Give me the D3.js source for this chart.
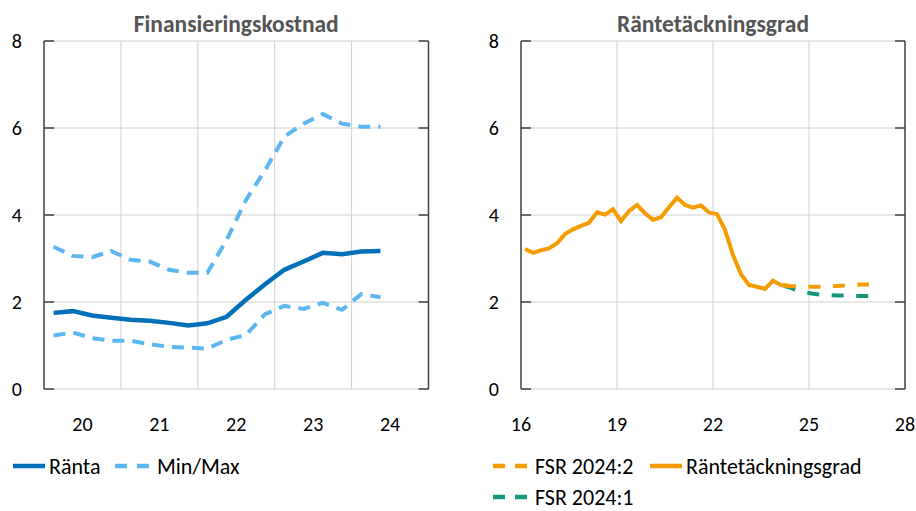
<!DOCTYPE html>
<html>
<head>
<meta charset="utf-8">
<script src="https://cdn.jsdelivr.net/npm/d3@7"></script>
<style>
    body { margin: 0; background: #fff; }
    text { font-family: Carlito, Lato, sans-serif; fill: #000; }
</style>
</head>
<body>
<div id="chart"></div>
<script>
// left panel: quarterly, 2020Q1 - 2024Q2 (mid-quarter)
const leftQuarters = ['2020Q1','2020Q2','2020Q3','2020Q4','2021Q1','2021Q2','2021Q3','2021Q4',
    '2022Q1','2022Q2','2022Q3','2022Q4','2023Q1','2023Q2','2023Q3','2023Q4','2024Q1','2024Q2'];
const ranta = [1.75, 1.79, 1.69, 1.64, 1.59, 1.57, 1.52, 1.46, 1.51, 1.66, 2.05, 2.41, 2.74, 2.93, 3.13, 3.10, 3.16, 3.17];
const maxRate = [3.27, 3.06, 3.03, 3.17, 2.97, 2.93, 2.74, 2.67, 2.67, 3.43, 4.34, 5.03, 5.80, 6.10, 6.32, 6.10, 6.03, 6.03];
const minRate = [1.23, 1.30, 1.17, 1.11, 1.11, 1.03, 0.97, 0.95, 0.93, 1.13, 1.24, 1.72, 1.91, 1.84, 1.98, 1.82, 2.18, 2.11];
const leftTickLabels = ['20', '21', '22', '23', '24'];

// right panel: quarterly, 2016Q1 - 2024Q2 outcome, forecasts 2024Q1 - 2026Q4
const rightStart = '2016Q1';
const tackning = [3.22, 3.13, 3.19, 3.23, 3.35, 3.56, 3.67, 3.75, 3.82, 4.06, 4.01, 4.13, 3.86, 4.09, 4.23, 4.04,
    3.89, 3.95, 4.18, 4.40, 4.23, 4.17, 4.22, 4.06, 4.02, 3.66, 3.08, 2.64, 2.39, 2.35, 2.30, 2.49, 2.39, 2.37];
const fcStart = '2024Q1';
const fsr20242 = [2.39, 2.37, 2.36, 2.35, 2.35, 2.35, 2.36, 2.37, 2.38, 2.39, 2.40, 2.40];
const fsr20241 = [2.39, 2.34, 2.27, 2.22, 2.19, 2.17, 2.16, 2.15, 2.15, 2.14, 2.14, 2.14];
const rightTickLabels = ['16', '19', '22', '25', '28'];

const yTicks = [0, 2, 4, 6, 8];

const colRanta = '#0070b9';
const colMinMax = '#5cb6f0';
const colOrange = '#f59c00';
const colTeal = '#16967f';
const gridCol = '#d0d0d0';
const axisCol = '#404040';

function qTime(q, i) {
    // mid-quarter decimal year
    const yr = +q.slice(0, 4), n = +q.slice(5);
    return yr + (n - 1) * 0.25 + 0.125 + i * 0.25;
}

const W = 916, H = 511;
const svg = d3.select('#chart').append('svg').attr('width', W).attr('height', H);

const y = d3.scaleLinear().domain([0, 8]).range([389, 41]);

function panel(x0, x1, xDomain, title) {
    const x = d3.scaleLinear().domain(xDomain).range([x0, x1]);
    const g = svg.append('g');
    // horizontal grid
    g.selectAll('.hg').data(yTicks).enter().append('line')
        .attr('x1', x0).attr('x2', x1)
        .attr('y1', d => y(d)).attr('y2', d => y(d))
        .attr('stroke', gridCol).attr('stroke-width', 1);
    // axis lines left and right, inward ticks
    [x0, x1].forEach((ax, k) => {
        g.append('line').attr('x1', ax).attr('x2', ax).attr('y1', y(0)).attr('y2', y(8))
            .attr('stroke', axisCol).attr('stroke-width', 1.5);
        g.selectAll('.tk' + k).data(yTicks).enter().append('line')
            .attr('x1', ax).attr('x2', k === 0 ? ax + 10 : ax - 10)
            .attr('y1', d => y(d)).attr('y2', d => y(d))
            .attr('stroke', axisCol).attr('stroke-width', 1.5);
    });
    g.selectAll('.yl').data(yTicks).enter().append('text')
        .attr('x', x0 - 22).attr('y', d => y(d)).attr('dy', '0.35em')
        .attr('text-anchor', 'end').style('font-size', '20px')
        .text(d => d);
    g.append('text').attr('x', (x0 + x1) / 2).attr('y', 32)
        .attr('text-anchor', 'middle').style('font-size', '23.5px').style('font-weight', 'bold')
        .style('fill', '#555').text(title);
    return { x, g };
}

// ---------- left panel ----------
const L = panel(44, 428.5, [2020, 2025], 'Finansieringskostnad');
L.g.selectAll('.vg').data([2021, 2022, 2023, 2024]).enter().append('line')
    .attr('x1', d => L.x(d)).attr('x2', d => L.x(d)).attr('y1', y(0)).attr('y2', y(8))
    .attr('stroke', gridCol).attr('stroke-width', 1);
L.g.selectAll('.xl').data(leftTickLabels).enter().append('text')
    .attr('x', (d, i) => L.x(2020 + i + 0.5)).attr('y', 431)
    .attr('text-anchor', 'middle').style('font-size', '20px').text(d => d);

const lineL = d3.line().x((d, i) => L.x(qTime(leftQuarters[0], i))).y(d => y(d));
L.g.append('path').attr('d', lineL(maxRate)).attr('fill', 'none')
    .attr('stroke', colMinMax).attr('stroke-width', 4).attr('stroke-dasharray', '12,8');
L.g.append('path').attr('d', lineL(minRate)).attr('fill', 'none')
    .attr('stroke', colMinMax).attr('stroke-width', 4).attr('stroke-dasharray', '12,8');
L.g.append('path').attr('d', lineL(ranta)).attr('fill', 'none')
    .attr('stroke', colRanta).attr('stroke-width', 4.5);

// ---------- right panel ----------
const R = panel(521, 905, [2016, 2028], 'Räntetäckningsgrad');
R.g.selectAll('.vg').data([2019, 2022, 2025]).enter().append('line')
    .attr('x1', d => R.x(d)).attr('x2', d => R.x(d)).attr('y1', y(0)).attr('y2', y(8))
    .attr('stroke', gridCol).attr('stroke-width', 1);
R.g.selectAll('.xl').data(rightTickLabels).enter().append('text')
    .attr('x', d => R.x(2000 + +d)).attr('y', 431)
    .attr('text-anchor', 'middle').style('font-size', '20px').text(d => d);

const lineR = start => d3.line().x((d, i) => R.x(qTime(start, i))).y(d => y(d));
R.g.append('path').attr('d', lineR(fcStart)(fsr20241)).attr('fill', 'none')
    .attr('stroke', colTeal).attr('stroke-width', 4).attr('stroke-dasharray', '12,12.5')
    .attr('stroke-dashoffset', -3);
R.g.append('path').attr('d', lineR(fcStart)(fsr20242)).attr('fill', 'none')
    .attr('stroke', colOrange).attr('stroke-width', 4).attr('stroke-dasharray', '12,12.5')
    .attr('stroke-dashoffset', -3);
R.g.append('path').attr('d', lineR(rightStart)(tackning)).attr('fill', 'none')
    .attr('stroke', colOrange).attr('stroke-width', 4);

// ---------- legends ----------
const legendItems = [
    { x: 13, y: 466, color: colRanta, dash: null, label: 'Ränta' },
    { x: 115, y: 466, color: colMinMax, dash: '12,10', label: 'Min/Max' },
    { x: 493, y: 466, color: colOrange, dash: '12,10', label: 'FSR 2024:2' },
    { x: 650, y: 466, color: colOrange, dash: null, label: 'Räntetäckningsgrad' },
    { x: 493, y: 497, color: colTeal, dash: '12,10', label: 'FSR 2024:1' }
];
const leg = svg.append('g');
legendItems.forEach(it => {
    const len = it.dash ? 34 : 32;
    leg.append('line').attr('x1', it.x).attr('x2', it.x + len)
        .attr('y1', it.y).attr('y2', it.y)
        .attr('stroke', it.color).attr('stroke-width', 4.5)
        .attr('stroke-dasharray', it.dash);
    leg.append('text').attr('x', it.x + len + (it.dash ? 8 : 4)).attr('y', it.y).attr('dy', '0.35em')
        .style('font-size', '22px').text(it.label);
});
</script>
</body>
</html>
